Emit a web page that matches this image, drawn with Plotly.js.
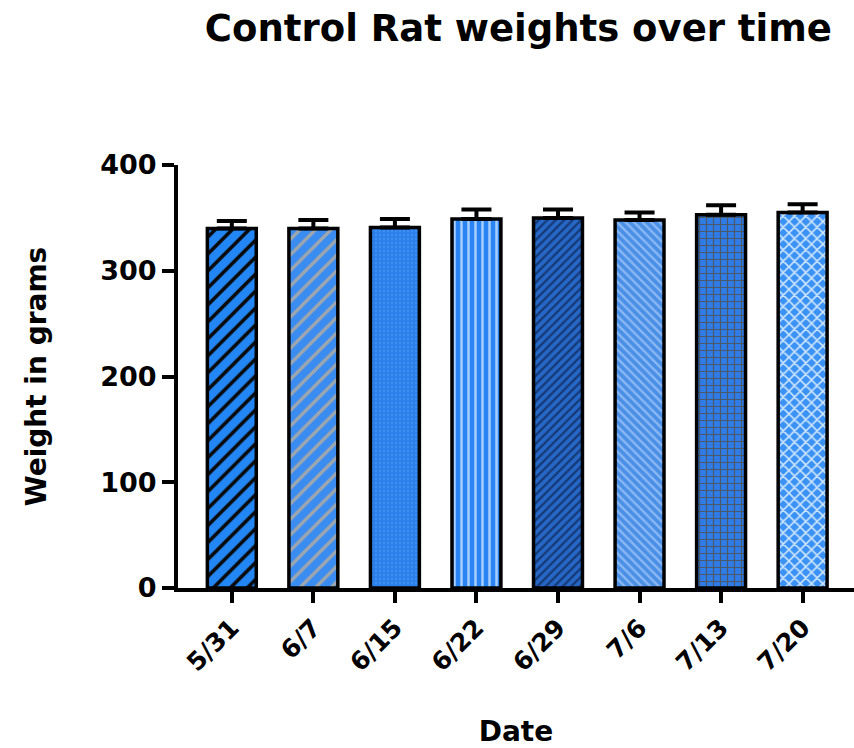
<!DOCTYPE html>
<html>
<head>
<meta charset="utf-8">
<script src="https://cdn.plot.ly/plotly-3.0.1.min.js"></script>
<style>html,body{margin:0;padding:0;background:#fff;}#chart{width:854px;height:748px;}</style>
</head>
<body>
<div id="chart"></div>
<script>
const dates = ["5/31", "6/7", "6/15", "6/22", "6/29", "7/6", "7/13", "7/20"];
const weights = [340, 340, 341, 349, 350, 348, 353, 355];
const errUp = [7, 8, 8, 9, 8, 7, 9, 8];
const yTicks = [0, 100, 200, 300, 400];

const bgColors = ["#2286f4", "#3a8cf0", "#2b80ec", "#2a84f4", "#2668c8", "#4a8fe6", "#2f7ce6", "#3a92f4"];
const fgColors = ["#0a0a0a", "#9ea6ae", "#3f8ef2", "#a8d0ff", "#163a78", "#8ab8f4", "#4a5868", "#cfe6ff"];
const shapes = ["/", "/", ".", "|", "/", "\\", "+", "x"];
const sizes = [12, 11, 4, 7, 6, 6, 7, 8];
const solid = [0.3, 0.3, 0.3, 0.35, 0.4, 0.4, 0.3, 0.35];

const font = "DejaVu Sans, Verdana, sans-serif";

const traces = dates.map((d, i) => ({
  type: "bar",
  x: [d],
  y: [weights[i]],
  width: 0.6,
  marker: {
    color: bgColors[i],
    line: {color: "#000", width: 3.5},
    pattern: {shape: shapes[i], fgcolor: fgColors[i], bgcolor: bgColors[i], size: sizes[i], solidity: solid[i], fillmode: "replace"}
  },
  error_y: {type: "data", symmetric: false, array: [errUp[i]], arrayminus: [0], color: "#000", thickness: 4, width: 15},
  hoverinfo: "skip"
}));

const layout = {
  width: 854, height: 748,
  margin: {l: 178, r: 0, t: 165, b: 160},
  paper_bgcolor: "#fff", plot_bgcolor: "#fff",
  showlegend: false,
  barmode: "overlay",
  title: {text: "<b>Control Rat weights over time</b>", x: 0.607, xanchor: "center", y: 0.963, yanchor: "middle",
    font: {family: font, size: 37, color: "#000"}},
  xaxis: {
    type: "category",
    categoryorder: "array", categoryarray: dates,
    range: [-0.66, 7.63],
    showline: true, linecolor: "#000", linewidth: 4,
    ticks: "outside", ticklen: 11, tickwidth: 4, tickcolor: "#000",
    tickangle: -45,
    tickfont: {family: font, size: 25, color: "#000", weight: "bold"},
    showgrid: false, zeroline: false,
    title: {text: "<b>Date</b>", font: {family: font, size: 28, color: "#000"}, standoff: 54}
  },
  yaxis: {
    range: [0, 400],
    tickvals: yTicks,
    showline: true, linecolor: "#000", linewidth: 4,
    ticks: "outside", ticklen: 12, tickwidth: 4, tickcolor: "#000",
    tickfont: {family: font, size: 27, color: "#000", weight: "bold"},
    showgrid: false, zeroline: false,
    title: {text: "<b>Weight in grams</b>", font: {family: font, size: 28, color: "#000"}, standoff: 46}
  }
};

Plotly.newPlot("chart", traces, layout, {displayModeBar: false, staticPlot: true});
</script>
</body>
</html>
